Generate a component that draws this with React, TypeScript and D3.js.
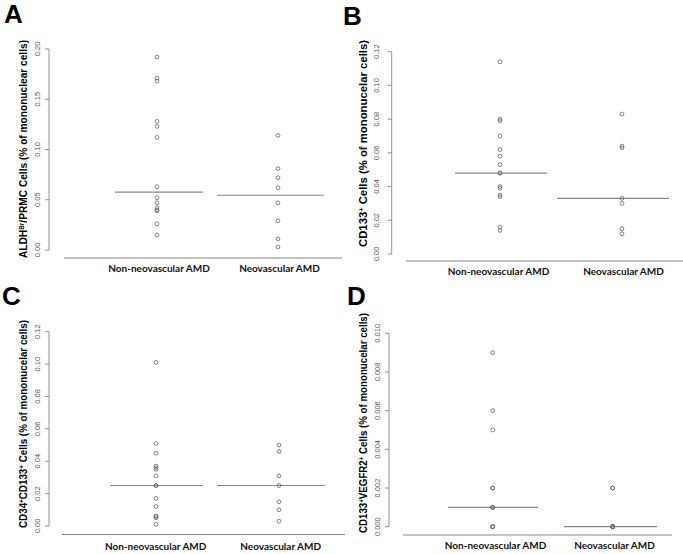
import React from "react";
import * as d3 from "d3";

const groups = ["Non-neovascular AMD", "Neovascular AMD"];

const aNonNeo = [0.192, 0.171, 0.168, 0.128, 0.123, 0.112, 0.063, 0.052, 0.047, 0.042, 0.040, 0.039, 0.026, 0.015];
const aNeo = [0.114, 0.081, 0.072, 0.062, 0.047, 0.029, 0.011, 0.003];
const bNonNeo = [0.114, 0.080, 0.079, 0.070, 0.062, 0.058, 0.053, 0.048, 0.048, 0.040, 0.039, 0.035, 0.034, 0.016, 0.014];
const bNeo = [0.083, 0.064, 0.063, 0.033, 0.030, 0.015, 0.012];
const cNonNeo = [0.101, 0.051, 0.045, 0.037, 0.036, 0.035, 0.031, 0.025, 0.025, 0.017, 0.012, 0.006, 0.006, 0.005, 0.001];
const cNeo = [0.050, 0.046, 0.031, 0.025, 0.015, 0.010, 0.003];
const dNonNeo = [0.009, 0.006, 0.005, 0.002, 0.002, 0.001, 0.001, 0.001, 0.0, 0.0, 0.0];
const dNeo = [0.002, 0.002, 0.0, 0.0, 0.0, 0.0, 0.0];

const aTicks = [0, 0.05, 0.1, 0.15, 0.2];
const bTicks = [0, 0.02, 0.04, 0.06, 0.08, 0.1, 0.12];
const cTicks = [0, 0.02, 0.04, 0.06, 0.08, 0.1, 0.12];
const dTicks = [0, 0.002, 0.004, 0.006, 0.008, 0.01];

const aTitle: [string, boolean][] = [["ALDH", false], ["Br", true], ["/PRMC Cells (% of mononuclear cells)", false]];
const bTitle: [string, boolean][] = [["CD133", false], ["+", true], [" Cells (% of mononucelar cells)", false]];
const cTitle: [string, boolean][] = [["CD34", false], ["+", true], ["CD133", false], ["+", true], [" Cells (% of mononucelar cells)", false]];
const dTitle: [string, boolean][] = [["CD133", false], ["+", true], ["VEGFR2", false], ["+", true], [" Cells (% of mononucelar cells)", false]];

type Layout = {
  letter: string; lx: number; ly: number;
  axisX: number; yTop: number; yBot: number;
  pts: number[]; lines: [number, number][];
  baseY: number; baseX: [number, number];
  labX: number[]; labY: number;
  titleX: number; titleY: number; titleLen: number; tickX: number;
};

type PanelProps = {
  layout: Layout; series: number[][]; ticks: number[]; fmt: string; title: [string, boolean][];
};

function Panel({ layout: L, series, ticks, fmt, title }: PanelProps) {
  const y = d3.scaleLinear().domain([0, ticks[ticks.length - 1]]).range([L.yBot, L.yTop]);
  const x = d3.scaleOrdinal<string, number>().domain(groups).range(L.pts);
  const f = d3.format(fmt);
  const axisColor = "#777";
  return (
    <g>
      <text x={L.lx} y={L.ly} fontFamily="Liberation Sans, Arial, sans-serif" fontWeight="bold" fontSize={26} fill="#000">
        {L.letter}
      </text>
      <line x1={L.axisX} x2={L.axisX} y1={y(ticks[0])} y2={y(ticks[ticks.length - 1])} stroke={axisColor} strokeWidth={0.8} />
      {ticks.map((t) => (
        <g key={t}>
          <line x1={L.axisX - 4} x2={L.axisX} y1={y(t)} y2={y(t)} stroke={axisColor} strokeWidth={0.8} />
          <text
            transform={`translate(${L.tickX},${y(t)}) rotate(-90)`}
            textAnchor="middle"
            dy="0.35em"
            fontFamily="Liberation Sans, Arial, sans-serif"
            fontSize={7.5}
            fill="#555"
          >
            {f(t)}
          </text>
        </g>
      ))}
      <text
        transform={`translate(${L.titleX},${L.titleY}) rotate(-90)`}
        textAnchor="middle"
        dy="0.35em"
        fontFamily="Liberation Sans, Arial, sans-serif"
        fontWeight="bold"
        fontSize={11}
        fill="#000"
        textLength={L.titleLen}
        lengthAdjust="spacingAndGlyphs"
      >
        {title.map(([s, sup], i) =>
          sup ? (
            <tspan key={i} fontSize={7} baselineShift="super">{s}</tspan>
          ) : (
            <tspan key={i}>{s}</tspan>
          )
        )}
      </text>
      <line x1={L.baseX[0]} x2={L.baseX[1]} y1={L.baseY} y2={L.baseY} stroke="#888" strokeWidth={1} />
      {series.map((vals, gi) => {
        const m = d3.median(vals) as number;
        return (
          <line key={"m" + gi} x1={L.lines[gi][0]} x2={L.lines[gi][1]} y1={y(m)} y2={y(m)} stroke="#888" strokeWidth={1.2} />
        );
      })}
      {series.map((vals, gi) =>
        vals.map((v, i) => (
          <circle key={gi + "-" + i} cx={x(groups[gi])} cy={y(v)} r={1.9} fill="none" stroke="#666" strokeWidth={0.8} />
        ))
      )}
      {groups.map((g, gi) => (
        <text key={g} x={L.labX[gi]} y={L.labY} textAnchor="middle" fontFamily="Lato, sans-serif" fontWeight="bold" fontSize={10} fill="#111">
          {g}
        </text>
      ))}
    </g>
  );
}

const layoutA: Layout = {
  letter: "A", lx: 4, ly: 23, axisX: 49, yTop: 49, yBot: 250,
  pts: [157, 278], lines: [[115, 203], [217, 324]], baseY: 258, baseX: [64, 342],
  labX: [159, 279.5], labY: 271.5, titleX: 22.7, titleY: 149, titleLen: 218, tickX: 37,
};
const layoutB: Layout = {
  letter: "B", lx: 343, ly: 25, axisX: 391.7, yTop: 51.7, yBot: 254,
  pts: [500, 622], lines: [[455, 547], [557, 669]], baseY: 261, baseX: [406, 683],
  labX: [498.5, 623.5], labY: 274.5, titleX: 362.7, titleY: 143.5, titleLen: 207, tickX: 376.7,
};
const layoutC: Layout = {
  letter: "C", lx: 2, ly: 305, axisX: 49, yTop: 331.7, yBot: 526,
  pts: [156, 279], lines: [[110, 203], [217, 325]], baseY: 534.5, baseX: [62, 345],
  labX: [155.7, 280.7], labY: 550, titleX: 22.7, titleY: 424, titleLen: 208, tickX: 37,
};
const layoutD: Layout = {
  letter: "D", lx: 347, ly: 305, axisX: 389, yTop: 333.3, yBot: 526.7,
  pts: [492.7, 612.7], lines: [[448, 538], [564, 657]], baseY: 535, baseX: [403, 672],
  labX: [495.5, 614.5], labY: 549, titleX: 363.3, titleY: 423, titleLen: 220, tickX: 377.3,
};

export default function App() {
  return (
    <svg width={683} height={554} style={{ position: "absolute", left: 0, top: 0, background: "#fff" }}>
      <rect width={683} height={554} fill="#fff" />
      <Panel layout={layoutA} series={[aNonNeo, aNeo]} ticks={aTicks} fmt=".2f" title={aTitle} />
      <Panel layout={layoutB} series={[bNonNeo, bNeo]} ticks={bTicks} fmt=".2f" title={bTitle} />
      <Panel layout={layoutC} series={[cNonNeo, cNeo]} ticks={cTicks} fmt=".2f" title={cTitle} />
      <Panel layout={layoutD} series={[dNonNeo, dNeo]} ticks={dTicks} fmt=".3f" title={dTitle} />
    </svg>
  );
}
